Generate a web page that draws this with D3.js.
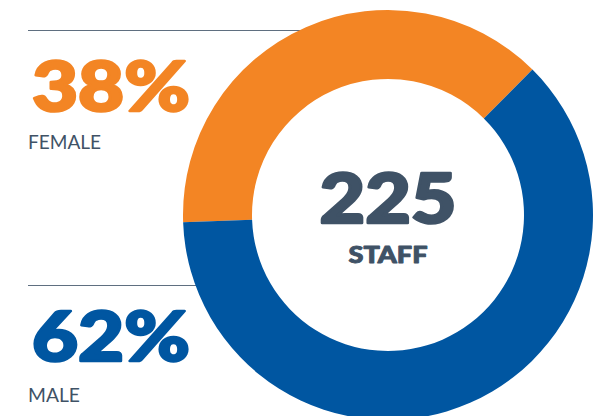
<!DOCTYPE html>
<html><head><meta charset="utf-8">
<script src="https://cdn.jsdelivr.net/npm/d3@7"></script>
<style>
html,body{margin:0;padding:0;background:#fff;}
svg{display:block;}
</style></head>
<body>
<svg id="chart" width="611" height="416"></svg>
<script>
const categories = ["FEMALE", "MALE"];
const values = [38, 62];
const colors = ["#F38524", "#0056A1"];
const totalLabel = "225";
const totalCaption = "STAFF";

const W = 611, H = 416;
const cx = 388, cy = 215, outerR = 205, innerR = 136;
const textColor = "#3F5266";
const ruleColor = "#5F6F80";

const svg = d3.select("#chart");

// rule lines (behind donut)
const rules = [{y: 30, x2: 310}, {y: 285, x2: 230}];
svg.selectAll("line.rule").data(rules).join("line")
  .attr("class", "rule")
  .attr("x1", 28).attr("x2", d => d.x2)
  .attr("y1", d => d.y + 0.5).attr("y2", d => d.y + 0.5)
  .attr("stroke", ruleColor).attr("stroke-width", 1.2);

// donut
const pie = d3.pie().sort(null)
  .startAngle(-92 * Math.PI / 180)
  .endAngle(268 * Math.PI / 180);
const arc = d3.arc().innerRadius(innerR).outerRadius(outerR);
const g = svg.append("g").attr("transform", `translate(${cx},${cy})`);
g.selectAll("path").data(pie(values)).join("path")
  .attr("d", arc)
  .attr("fill", (d, i) => colors[i]);

// center labels
const heavy = "Lato, 'Open Sans', 'DejaVu Sans', sans-serif";
g.append("text")
  .attr("x", 0).attr("y", 8)
  .attr("text-anchor", "middle")
  .attr("font-family", heavy).attr("font-weight", 900)
  .attr("font-size", 68)
  .attr("fill", textColor)
  .attr("stroke", textColor).attr("stroke-width", 2.6).attr("stroke-linejoin", "round")
  .attr("textLength", 137).attr("lengthAdjust", "spacingAndGlyphs")
  .text(totalLabel);
g.append("text")
  .attr("x", 0).attr("y", 47.5)
  .attr("text-anchor", "middle")
  .attr("font-family", heavy).attr("font-weight", 900)
  .attr("font-size", 22)
  .attr("fill", textColor)
  .attr("stroke", textColor).attr("stroke-width", 0.9).attr("stroke-linejoin", "round")
  .attr("textLength", 79).attr("lengthAdjust", "spacingAndGlyphs")
  .text(totalCaption);

// side labels
const pctBase = [111, 361];
const nameBase = [149, 402];
const nameWidth = [73, 52];
const fmt = d3.format(".0%");
categories.forEach((c, i) => {
  svg.append("text")
    .attr("x", 32).attr("y", pctBase[i])
    .attr("font-family", heavy).attr("font-weight", 900)
    .attr("font-size", 68)
    .attr("fill", colors[i])
    .attr("stroke", colors[i]).attr("stroke-width", 2.6).attr("stroke-linejoin", "round")
    .attr("textLength", 158).attr("lengthAdjust", "spacingAndGlyphs")
    .text(fmt(values[i] / 100));
  svg.append("text")
    .attr("x", 28).attr("y", nameBase[i])
    .attr("font-family", "Lato, 'Open Sans', sans-serif").attr("font-weight", 400)
    .attr("font-size", 19)
    .attr("fill", textColor)
    .attr("textLength", nameWidth[i]).attr("lengthAdjust", "spacingAndGlyphs")
    .text(c);
});
</script>
</body></html>
